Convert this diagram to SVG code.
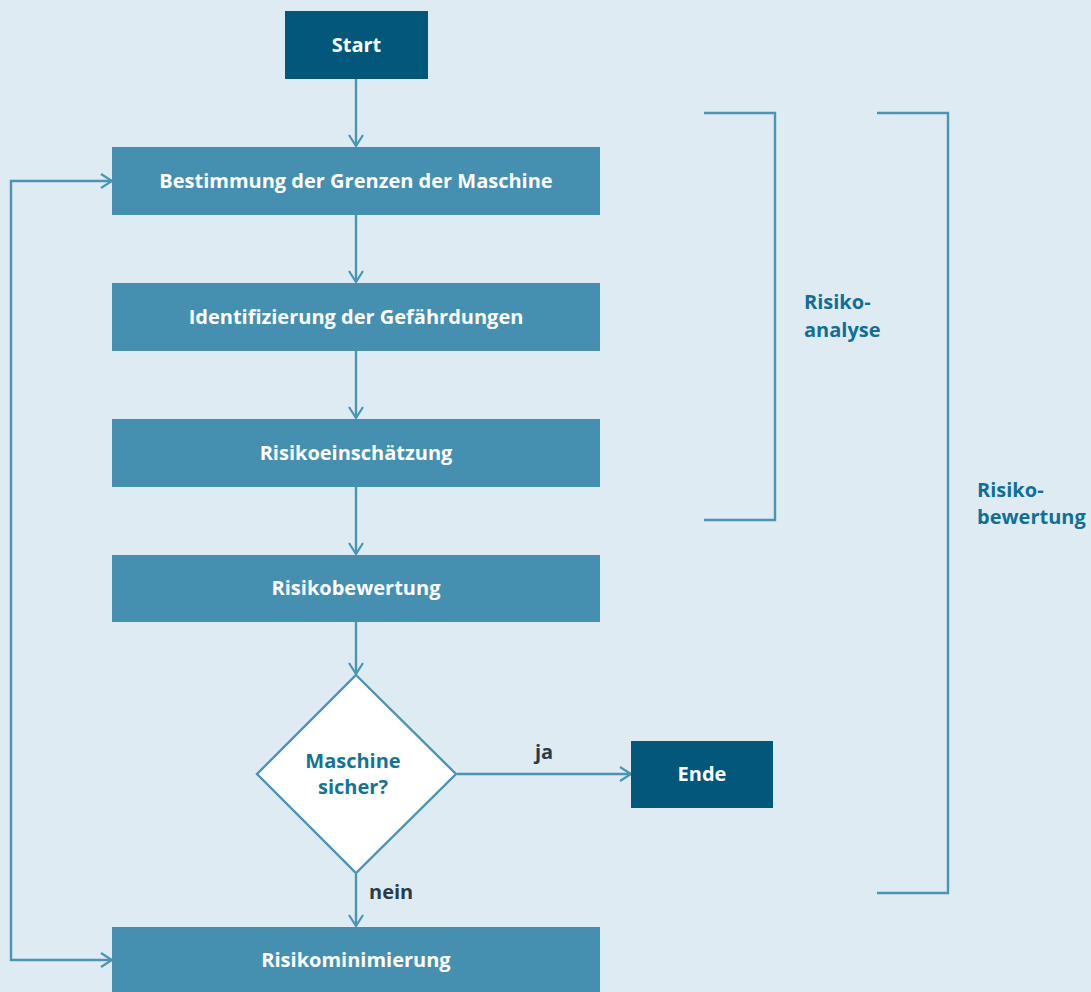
<svg xmlns="http://www.w3.org/2000/svg" width="1091" height="992" viewBox="0 0 1091 992">
<defs>
<marker id="arr" markerWidth="16" markerHeight="16" refX="14" refY="8" orient="auto-start-reverse" markerUnits="userSpaceOnUse">
<path d="M3,1 L14,8 L3,15" fill="none" stroke="#4a95b4" stroke-width="2.2"/>
</marker>
<style>
.box{fill:#4590b0}
.dark{fill:#02577a}
.t{font-family:"Open Sans","Liberation Sans",sans-serif;font-weight:bold;font-size:20px;fill:#ffffff;text-anchor:middle}
.lbl{font-family:"Open Sans","Liberation Sans",sans-serif;font-weight:bold;font-size:20px;fill:#2b3a4a}
.side{font-family:"Open Sans","Liberation Sans",sans-serif;font-weight:bold;font-size:20px;fill:#0f6f96}
.ln{fill:none;stroke:#4a95b4;stroke-width:2.4}
</style>
</defs>
<rect width="1091" height="992" fill="#dfebf3"/>
<g id="connectors">
<line class="ln" x1="356" y1="79" x2="356" y2="146" marker-end="url(#arr)"/>
<line class="ln" x1="356" y1="215" x2="356" y2="282" marker-end="url(#arr)"/>
<line class="ln" x1="356" y1="351" x2="356" y2="418" marker-end="url(#arr)"/>
<line class="ln" x1="356" y1="487" x2="356" y2="554" marker-end="url(#arr)"/>
<line class="ln" x1="356" y1="622" x2="356" y2="674" marker-end="url(#arr)"/>
<line class="ln" x1="457" y1="774" x2="631" y2="774" marker-end="url(#arr)"/>
<line class="ln" x1="356" y1="874" x2="356" y2="926" marker-end="url(#arr)"/>
<polyline class="ln" points="112,960 11,960 11,181 112,181" marker-start="url(#arr)" marker-end="url(#arr)"/>
<text class="lbl" x="535" y="759">ja</text>
<text class="lbl" x="369" y="899">nein</text>
</g>
<g id="start"><rect class="dark" x="285" y="11" width="143" height="68"/><text class="t" x="356.5" y="52">Start</text></g>
<g id="grenzen"><rect class="box" x="112" y="147" width="488" height="68"/><text class="t" x="356" y="188">Bestimmung der Grenzen der Maschine</text></g>
<g id="identifizierung"><rect class="box" x="112" y="283" width="488" height="68"/><text class="t" x="356" y="324">Identifizierung der Gefährdungen</text></g>
<g id="einschaetzung"><rect class="box" x="112" y="419" width="488" height="68"/><text class="t" x="356" y="460">Risikoeinschätzung</text></g>
<g id="bewertung"><rect class="box" x="112" y="555" width="488" height="67"/><text class="t" x="356" y="595">Risikobewertung</text></g>
<g id="entscheidung"><polygon points="356,675 456,774 356,873 257,774" fill="#ffffff" stroke="#4a95b4" stroke-width="2.4"/><text class="t" style="fill:#127399" x="353" y="768">Maschine</text><text class="t" style="fill:#127399" x="353" y="794">sicher?</text></g>
<g id="ende"><rect class="dark" x="631" y="741" width="142" height="67"/><text class="t" x="702" y="781">Ende</text></g>
<g id="minimierung"><rect class="box" x="112" y="927" width="488" height="70"/><text class="t" x="356" y="967">Risikominimierung</text></g>
<g id="risikoanalyse"><polyline class="ln" points="704,113 775,113 775,520 704,520"/><text class="side" x="804" y="309">Risiko-</text><text class="side" x="804" y="337">analyse</text></g>
<g id="risikobewertung"><polyline class="ln" points="877,113 948,113 948,893 877,893"/><text class="side" x="977" y="497">Risiko-</text><text class="side" x="977" y="524">bewertung</text></g>
</svg>
